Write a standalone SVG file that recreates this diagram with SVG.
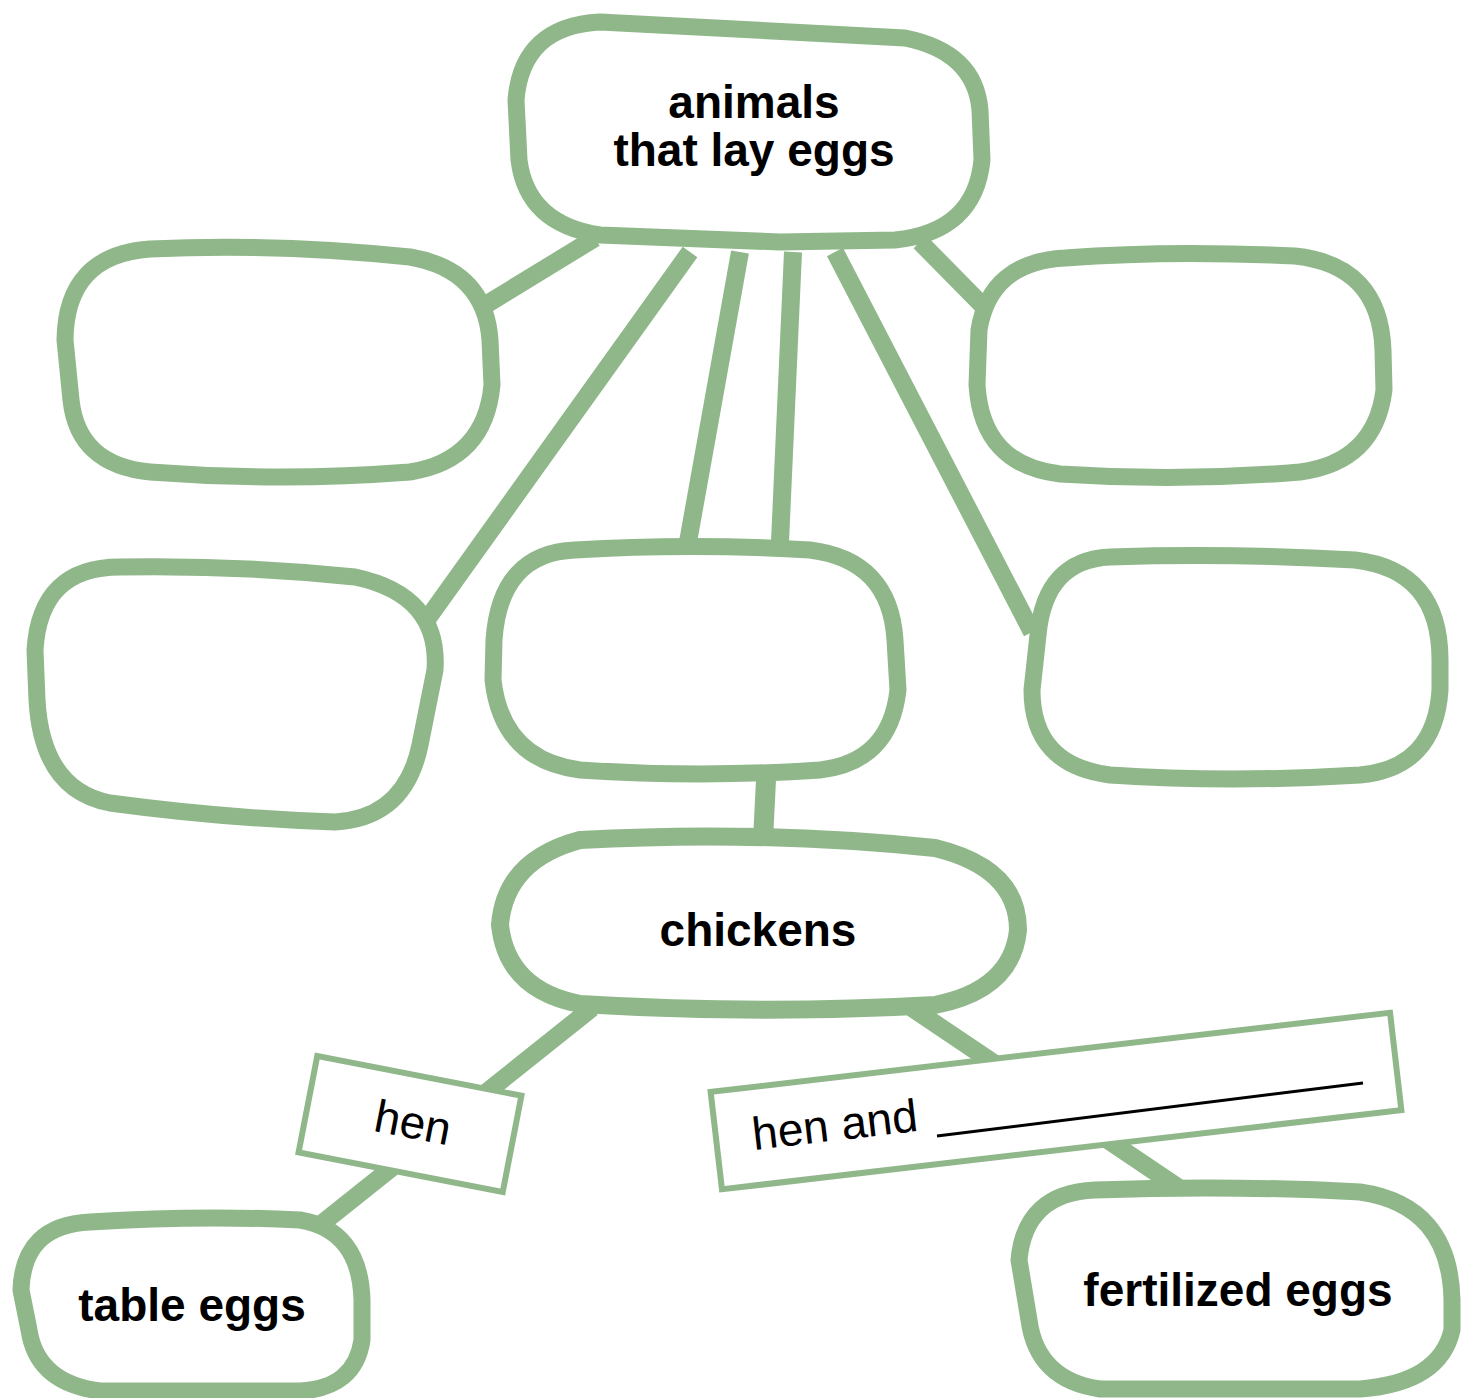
<svg xmlns="http://www.w3.org/2000/svg" width="1470" height="1398" viewBox="0 0 1470 1398">
<style>
.conn{stroke:#8fb78a;stroke-width:18;fill:none;stroke-linecap:butt}
.blob{stroke:#8fb78a;stroke-width:17;fill:#fff;stroke-linejoin:round}
.lbl{stroke:#8fb78a;stroke-width:6;fill:#fff}
.b{font-family:"Liberation Sans",Arial,sans-serif;font-weight:bold;font-size:46px;fill:#000;text-anchor:middle}
.r{font-family:"Liberation Sans",Arial,sans-serif;font-size:46px;fill:#000}
</style>
<rect width="1470" height="1398" fill="#fff"/>
<g id="connectors">
<line class="conn" x1="595" y1="238" x2="487" y2="304"/>
<line class="conn" x1="690" y1="252" x2="428" y2="618"/>
<line class="conn" x1="740" y1="252" x2="688" y2="542"/>
<line class="conn" x1="793" y1="252" x2="780" y2="542"/>
<line class="conn" x1="835" y1="252" x2="1032" y2="632"/>
<line class="conn" x1="920" y1="242" x2="985" y2="308"/>
<line class="conn" x1="766" y1="780" x2="763" y2="840" style="stroke-width:20"/>
<line class="conn" x1="592" y1="1008" x2="320" y2="1225"/>
<line class="conn" x1="912" y1="1008" x2="1182" y2="1190"/>
</g>
<g id="n-top">
<path class="blob" d="M600,22 L905,38 Q975,52 980,110 L982,160 Q975,232 895,240 L780,242 L600,235 Q527,224 519,160 L516,100 Q522,26 600,22 Z"/>
<text class="b" x="754" y="118">animals</text>
<text class="b" x="754" y="166">that lay eggs</text>
</g>
<g id="n-a"><path class="blob" d="M150,249 Q275,243 410,257 Q485,270 490,340 L492,385 Q485,460 410,472 Q280,482 150,472 Q78,465 71,400 L65,340 Q66,255 150,249 Z"/></g>
<g id="n-b"><path class="blob" d="M1065,258 Q1170,250 1295,256 Q1380,265 1383,350 L1384,390 Q1375,462 1300,472 Q1180,482 1060,474 Q982,465 977,385 L979,330 Q990,262 1065,258 Z"/></g>
<g id="n-c"><path class="blob" d="M120,567 Q240,565 355,577 Q440,595 435,670 L420,745 Q405,818 335,822 Q220,818 110,803 Q42,790 37,700 L35,650 Q40,567 120,567 Z"/></g>
<g id="n-d"><path class="blob" d="M575,550 Q690,543 810,550 Q890,560 895,640 L898,690 Q890,762 820,770 Q700,778 580,770 Q502,760 493,680 L494,640 Q500,553 575,550 Z"/></g>
<g id="n-e"><path class="blob" d="M1110,557 Q1230,553 1355,560 Q1440,570 1440,660 L1440,690 Q1435,768 1360,775 Q1230,783 1110,775 Q1032,765 1032,690 L1038,635 Q1045,560 1110,557 Z"/></g>
<g id="n-chickens">
<path class="blob" style="stroke-width:18" d="M580,840 Q760,830 935,848 Q1018,868 1018,930 Q1012,990 935,1005 Q760,1015 580,1004 Q507,990 500,925 Q505,860 580,840 Z"/>
<text class="b" x="758" y="946">chickens</text>
</g>
<g id="n-hen">
<rect class="lbl" x="-104" y="-49" width="208" height="98" transform="translate(410,1124) rotate(11)"/>
<text class="r" text-anchor="middle" transform="translate(410,1138) rotate(11)">hen</text>
</g>
<g id="n-henand">
<rect class="lbl" x="-342" y="-49" width="684" height="98" transform="translate(1056,1101) rotate(-6.65)"/>
<text class="r" transform="translate(754,1150) rotate(-6.65)">hen and</text>
<line x1="937" y1="1136" x2="1363" y2="1083" stroke="#000" stroke-width="3"/>
</g>
<g id="n-table">
<path class="blob" d="M90,1222 Q200,1215 300,1220 Q360,1230 362,1300 L362,1340 Q355,1388 300,1391 L100,1391 Q37,1383 29,1330 L21,1290 Q23,1225 90,1222 Z"/>
<text class="b" x="192" y="1321">table eggs</text>
</g>
<g id="n-fert">
<path class="blob" d="M1095,1190 Q1230,1185 1360,1192 Q1450,1205 1452,1300 L1452,1330 Q1440,1383 1360,1389 L1100,1389 Q1037,1380 1029,1320 L1019,1260 Q1025,1193 1095,1190 Z"/>
<text class="b" x="1238" y="1306">fertilized eggs</text>
</g>
</svg>
